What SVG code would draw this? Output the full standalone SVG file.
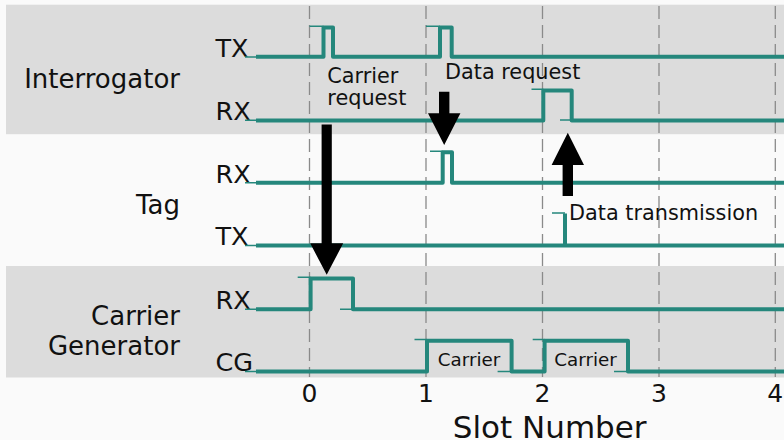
<svg xmlns="http://www.w3.org/2000/svg" width="784" height="440" viewBox="0 0 784 440">
<style>
text{font-family:"DejaVu Sans","Liberation Sans",sans-serif;fill:#111}
.lbl{font-size:26px}
.sig{font-size:25.5px}
.ann{font-size:20.8px}
.tick{font-size:25px;text-anchor:middle}
.wave{fill:none;stroke:#25877c;stroke-width:4;stroke-linejoin:round;stroke-linecap:butt}
.thin{fill:none;stroke:#25877c;stroke-width:1.5}
.grid{stroke:#8a8a8a;stroke-width:1.3;stroke-dasharray:13 6}
.arrow{fill:#000}
</style>
<rect x="0" y="0" width="784" height="440" fill="#fafafa"/>
<rect x="6" y="4.7" width="778" height="129.5" fill="#dcdcdc"/>
<rect x="6" y="266" width="778" height="111.5" fill="#dcdcdc"/>
<g id="grid">
<line class="grid" x1="309.5" y1="6" x2="309.5" y2="377"/>
<line class="grid" x1="426" y1="6" x2="426" y2="377"/>
<line class="grid" x1="542.5" y1="6" x2="542.5" y2="377"/>
<line class="grid" x1="659" y1="6" x2="659" y2="377"/>
<line class="grid" x1="775.3" y1="6" x2="775.3" y2="377"/>
</g>
<g id="interrogator">
<text class="lbl" x="180" y="88.3" text-anchor="end">Interrogator</text>
<g id="int-tx">
<text class="sig" x="215.5" y="56.5">TX</text>
<path class="thin" d="M245,57 H257 M309.5,26.3 H323.5 M426,26.3 H440"/>
<path class="wave" d="M256,56.8 H323.5 V27.5 H333 V56.8 H440 V27.5 H451.7 V56.8 H784"/>
</g>
<g id="int-rx">
<text class="sig" x="215.5" y="120">RX</text>
<path class="thin" d="M245,120.3 H257 M531.5,89.3 H543.3 M560,120 H571.7"/>
<path class="wave" d="M256,120.5 H543.3 V90.5 H571.7 V120.5 H784"/>
</g>
</g>
<g id="tag">
<text class="lbl" x="180" y="214" text-anchor="end">Tag</text>
<g id="tag-rx">
<text class="sig" x="215.5" y="182.5">RX</text>
<path class="thin" d="M245,182.8 H257 M430,151.2 H442.7"/>
<path class="wave" d="M256,182.8 H442.7 V152.3 H452 V182.8 H784"/>
</g>
<g id="tag-tx">
<text class="sig" x="215.5" y="245">TX</text>
<path class="thin" d="M245,245.5 H257 M552,213 H565"/>
<path class="wave" d="M256,245.5 H784 M565,245.5 V213.5"/>
</g>
</g>
<g id="carrier-generator">
<text class="lbl" x="180" y="325"><tspan x="180" text-anchor="end">Carrier</tspan><tspan x="180" y="354.5" text-anchor="end">Generator</tspan></text>
<g id="cg-rx">
<text class="sig" x="215.5" y="308.5">RX</text>
<path class="thin" d="M245,309.3 H257 M297.7,277.3 H310.6 M340,309.3 H353"/>
<path class="wave" d="M256,309.3 H310.6 V278.5 H353 V309.3 H784"/>
</g>
<g id="cg">
<text class="sig" x="215.5" y="371">CG</text>
<path class="thin" d="M245,371.5 H257 M414.5,339.5 H427 M497.6,371.5 H511.6 M532.7,339.5 H544.6 M614,371.5 H628"/>
<path class="wave" d="M256,371.5 H427 V340.7 H511.6 V371.5 H544.6 V340.7 H628 V371.5 H784"/>
<text x="469" y="365.8" font-size="18.3" text-anchor="middle">Carrier</text>
<text x="585.5" y="365.8" font-size="18.3" text-anchor="middle">Carrier</text>
</g>
</g>
<g id="connectors">
<polygon class="arrow" points="321.6,124.5 331.8,124.5 331.8,243.3 343.2,243.3 326.7,274.8 310.2,243.3 321.6,243.3"/>
<polygon class="arrow" points="439,91.7 449.4,91.7 449.4,113.3 460.4,113.3 444.2,145 428,113.3 439,113.3"/>
<polygon class="arrow" points="562.6,196 573,196 573,165 584,165 567.8,132.7 551.6,165 562.6,165"/>
</g>
<g id="annotations">
<text class="ann" x="327.3" y="83.3">Carrier</text>
<text class="ann" x="327.3" y="105">request</text>
<text class="ann" x="445" y="79">Data request</text>
<text class="ann" x="569" y="220">Data transmission</text>
</g>
<g id="axis">
<text class="tick" x="309.5" y="401.5">0</text>
<text class="tick" x="426" y="401.5">1</text>
<text class="tick" x="542.5" y="401.5">2</text>
<text class="tick" x="659" y="401.5">3</text>
<text class="tick" x="775.3" y="401.5">4</text>
<text x="549.7" y="438" font-size="31" text-anchor="middle">Slot Number</text>
</g>
</svg>
